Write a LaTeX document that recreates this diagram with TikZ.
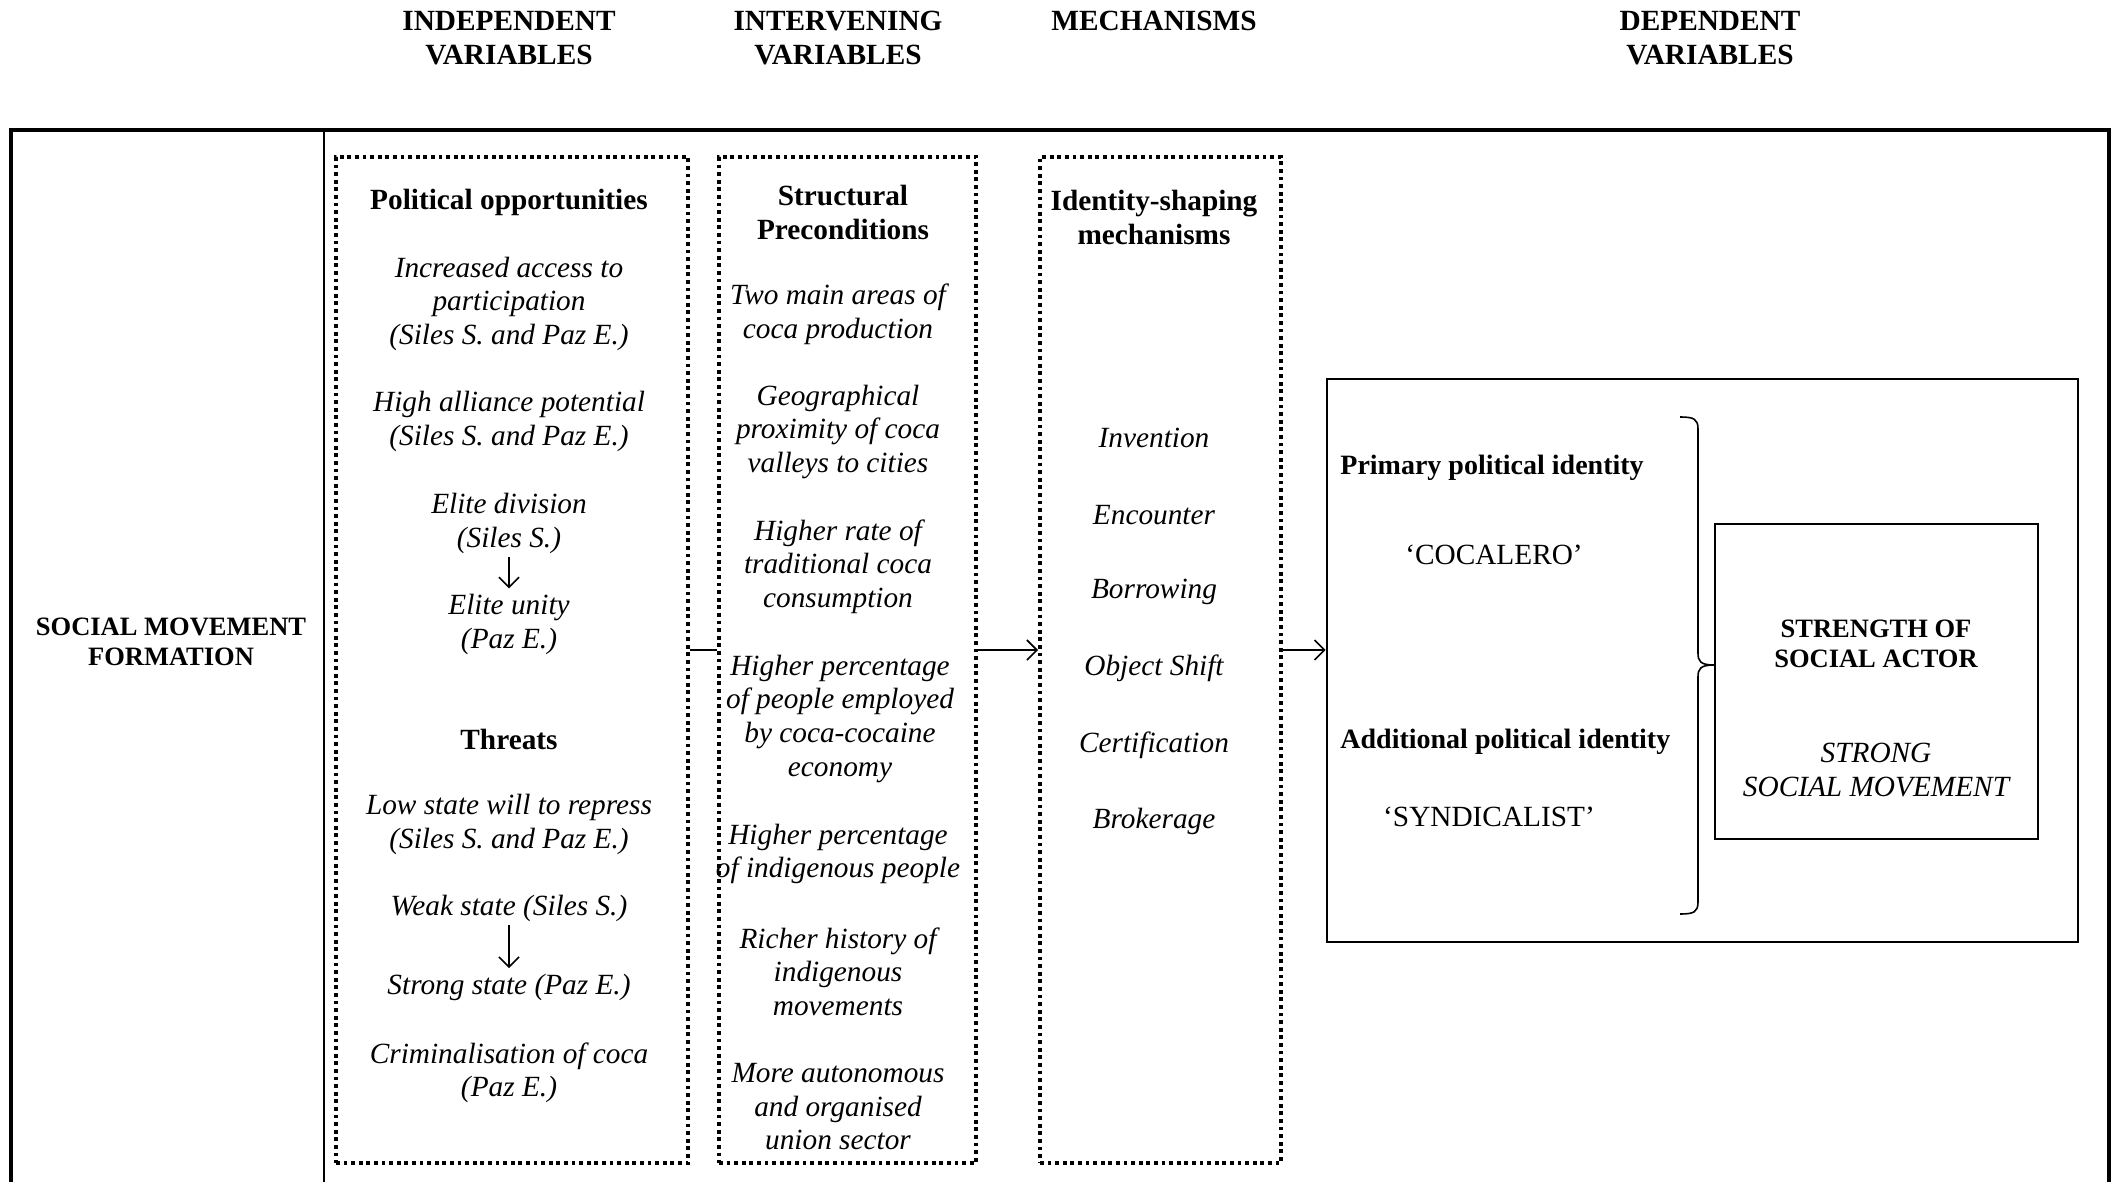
\documentclass[tikz,border=0pt]{standalone}
\usepackage{fontspec}
\setmainfont{Liberation Serif}
\usetikzlibrary{arrows.meta}
\begin{document}
\begin{tikzpicture}[x=0.5pt,y=-0.5pt,
  it/.style={inner sep=0pt, yshift=-0.9pt, align=center, font=\fontsize{14.65}{16.85}\selectfont\itshape},
  bf/.style={inner sep=0pt, yshift=-0.9pt, align=center, font=\fontsize{14.65}{16.85}\selectfont\bfseries},
  bfm/.style={inner sep=0pt, yshift=-0.9pt, align=left, font=\fontsize{14}{16.5}\selectfont\bfseries},
  bfs/.style={inner sep=0pt, yshift=-0.9pt, align=center, font=\fontsize{13.25}{14.85}\selectfont\bfseries},
  rm/.style={inner sep=0pt, yshift=-0.9pt, align=center, font=\fontsize{14.65}{16.85}\selectfont},
  dotbox/.style={draw, line width=2pt, dash pattern=on 1.9pt off 1.9pt, inner sep=0pt},
  conn/.style={line width=0.8pt},
  arr/.style={line width=0.8pt, -{Straight Barb[length=5pt,width=10pt]}},
]
\useasboundingbox (0,0) rectangle (2116,1182);

% headers
\node[bf] (h1) at (509,36) {INDEPENDENT\\VARIABLES};
\node[bf] (h2) at (838,36) {INTERVENING\\VARIABLES};
\node[bf] (h3) at (1154,19) {MECHANISMS};
\node[bf] (h4) at (1710,36) {DEPENDENT\\VARIABLES};

% outer frame
\draw[line width=1.6pt] (11,1190) -- (11,130) -- (2109,130) -- (2109,1190);
\draw[line width=1.3pt] (324,130) -- (324,1190);
\node[bfs] (smf) at (171,640) {SOCIAL MOVEMENT\\FORMATION};

% dotted boxes
\node[dotbox, minimum width=176pt, minimum height=503pt] (b1) at (512,660) {};
\node[dotbox, minimum width=128.5pt, minimum height=503pt] (b2) at (847.5,660) {};
\node[dotbox, minimum width=120.5pt, minimum height=503pt] (b3) at (1160.5,660) {};

% dependent boxes
\node[draw, line width=1.3pt, inner sep=0pt, minimum width=375.5pt, minimum height=281.5pt] (dep) at (1702.5,660.5) {};
\node[draw, line width=0.8pt, inner sep=0pt, minimum width=161.5pt, minimum height=157.5pt] (ib) at (1876.5,681.5) {};

% box 1 texts
\node[bf] (po) at (509,201) {Political opportunities};
\node[it] (ia) at (509,302) {Increased access to\\participation\\(Siles S. and Paz E.)};
\node[it] (ha) at (509,420) {High alliance potential\\(Siles S. and Paz E.)};
\node[it] (ed) at (509,521.5) {Elite division\\(Siles S.)};
\node[it] (eu) at (509,623) {Elite unity\\(Paz E.)};
\node[bf] (th) at (509,738) {Threats};
\node[it] (ls) at (509,822.5) {Low state will to repress\\(Siles S. and Paz E.)};
\node[it] (ws) at (509,907) {Weak state (Siles S.)};
\node[it] (ss) at (509,986) {Strong state (Paz E.)};
\node[it] (cc) at (509,1071) {Criminalisation of coca\\(Paz E.)};
\draw[arr, shorten <=1.5pt, shorten >=3pt] (ed.south) -- (eu.north);
\draw[arr, shorten <=1.5pt, shorten >=3pt] (ws.south) -- (ss.north);

% box 2 texts
\node[bf] (sp) at (843,211) {Structural\\Preconditions};
\node[it] (s1) at (838,312.5) {Two main areas of\\coca production};
\node[it] (s2) at (838,430) {Geographical\\proximity of coca\\valleys to cities};
\node[it] (s3) at (838,565) {Higher rate of\\traditional coca\\consumption};
\node[it] (s4) at (840,717) {Higher percentage\\of people employed\\by coca-cocaine\\economy};
\node[it] (s5) at (838,852) {Higher percentage\\of indigenous people};
\node[it] (s6) at (838,970) {Richer history of\\indigenous\\movements};
\node[it] (s7) at (838,1105) {More autonomous\\and organised\\union sector};

% box 3 texts
\node[bf] (ism) at (1154,216) {Identity-shaping\\mechanisms};
\node[it] (m1) at (1154,436) {Invention};
\node[it] (m2) at (1154,513) {Encounter};
\node[it] (m3) at (1154,590) {Borrowing};
\node[it] (m4) at (1154,667) {Object Shift};
\node[it] (m5) at (1154,744) {Certification};
\node[it] (m6) at (1154,820) {Brokerage};

% dependent texts
\node[bfm, anchor=west] (ppi) at (1340,466) {Primary political identity};
\node[rm] (coc) at (1494,553) {‘COCALERO’};
\node[bfm, anchor=west] (api) at (1340,740) {Additional political identity};
\node[rm] (syn) at (1489,815) {‘SYNDICALIST’};
\node[bfs] (soa) at (1876,642) {STRENGTH OF\\SOCIAL ACTOR};
\node[it] (ssm) at (1876,768) {STRONG\\SOCIAL MOVEMENT};

% brace
\draw[line width=0.8pt] (1680,417) .. controls (1694,417) and (1698,419) .. (1698,429) -- (1698,653) .. controls (1698,661) and (1700,665) .. (ib.west |- 0,665);
\draw[line width=0.8pt] (1680,914) .. controls (1694,914) and (1698,912) .. (1698,902) -- (1698,677) .. controls (1698,669) and (1700,665) .. (ib.west |- 0,665);

% connectors
\coordinate (ay) at (0,650);
\draw[conn] (b1.east |- ay) -- (b2.west |- ay);
\draw[arr] (b2.east |- ay) -- (b3.west |- ay);
\draw[arr] (b3.east |- ay) -- (dep.west |- ay);
\end{tikzpicture}
\end{document}
